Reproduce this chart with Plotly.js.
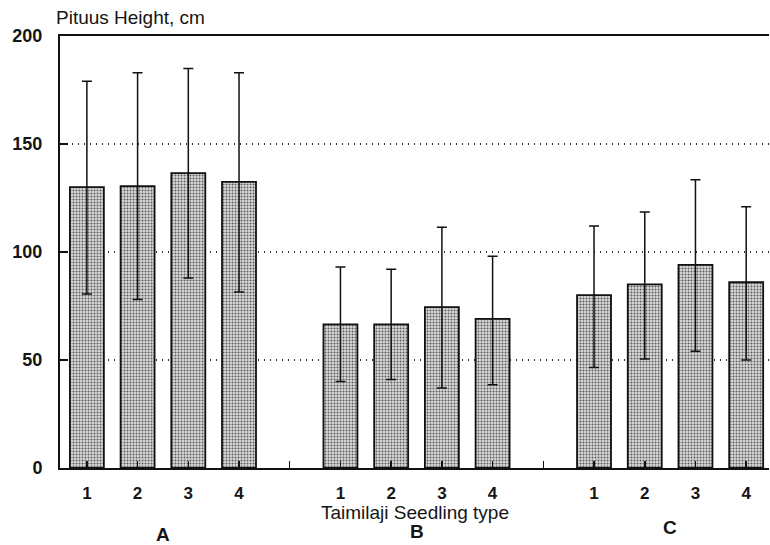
<!DOCTYPE html>
<html>
<head>
<meta charset="utf-8">
<script src="https://cdn.plot.ly/plotly-3.0.1.min.js"></script>
<style>html,body{margin:0;padding:0;background:#fff;}#chart{width:770px;height:545px;}</style>
</head>
<body>
<div id="chart"></div>
<script>
// Data
const groups = ["A", "B", "C"];
const seedlingTypes = ["1", "2", "3", "4"];
const positions = [1, 2, 3, 4, 6, 7, 8, 9, 11, 12, 13, 14];
const meanHeight = [130, 130.5, 136.5, 132.5, 66.5, 66.5, 74.5, 69, 80, 85, 94, 86];
const upperValue = [179, 183, 185, 183, 93, 92, 111.5, 98, 112, 118.5, 133.5, 121];
const lowerValue = [80.5, 78, 88, 81.5, 40, 41, 37, 38.5, 46.5, 50.5, 54, 50];
const tickPositions = [1, 2, 3, 4, 5, 6, 7, 8, 9, 10, 11, 12, 13, 14];
const tickLabels = ["1", "2", "3", "4", "", "1", "2", "3", "4", "", "1", "2", "3", "4"];
const groupCenters = [2.5, 7.5, 12.5];
const yTicks = [0, 50, 100, 150, 200];

const errPlus = meanHeight.map((m, i) => upperValue[i] - m);
const errMinus = meanHeight.map((m, i) => m - lowerValue[i]);

const trace = {
  type: "bar",
  x: positions,
  y: meanHeight,
  width: 0.67,
  marker: {
    color: "#bdbdbd",
    line: {color: "#111", width: 1.8},
    pattern: {shape: ".", fgcolor: "#5a5a5a", bgcolor: "#d9d9d9", size: 3, solidity: 0.35}
  },
  error_y: {
    type: "data",
    symmetric: false,
    array: errPlus,
    arrayminus: errMinus,
    color: "#111",
    thickness: 1.5,
    width: 5
  },
  hoverinfo: "skip"
};

const font = {family: "Liberation Sans, Arial, sans-serif", color: "#151515"};

const annotations = [
  {text: "Pituus Height, cm", xref: "paper", yref: "paper", x: -0.008, y: 1.042,
   xanchor: "left", yanchor: "middle", showarrow: false, font: Object.assign({}, font, {size: 19})},
  {text: "Taimilaji Seedling type", xref: "paper", yref: "paper", x: 0.5, y: -0.102,
   xanchor: "center", yanchor: "middle", showarrow: false, font: Object.assign({}, font, {size: 19})}
];
const groupY = [-0.155, -0.146, -0.137];
groups.forEach((g, i) => {
  annotations.push({text: g, xref: "x", yref: "paper", x: groupCenters[i], y: groupY[i],
    xanchor: "center", yanchor: "middle", showarrow: false,
    font: Object.assign({}, font, {size: 19, weight: "bold"})});
});

const layout = {
  width: 770,
  height: 545,
  margin: {l: 60, r: 1, t: 36, b: 77},
  paper_bgcolor: "#fff",
  plot_bgcolor: "#fff",
  showlegend: false,
  font: font,
  xaxis: {
    range: [0.47, 14.45],
    tickmode: "array",
    tickvals: tickPositions,
    ticktext: tickLabels,
    ticks: "inside",
    ticklen: 7,
    tickwidth: 1.5,
    tickcolor: "#111",
    ticklabelstandoff: 9,
    showgrid: false,
    zeroline: false,
    showline: true,
    linecolor: "#111",
    linewidth: 2,
    mirror: true,
    tickfont: Object.assign({}, font, {size: 17, weight: "bold"})
  },
  yaxis: {
    range: [0, 200],
    tickmode: "array",
    tickvals: yTicks,
    ticks: "inside",
    ticklen: 8,
    tickwidth: 1.5,
    tickcolor: "#111",
    ticklabelstandoff: 12,
    showgrid: true,
    gridcolor: "#333",
    griddash: "1px,5px",
    gridwidth: 1.3,
    zeroline: false,
    showline: true,
    linecolor: "#111",
    linewidth: 2,
    mirror: false,
    tickfont: Object.assign({}, font, {size: 18, weight: "bold"})
  },
  annotations: annotations
};

Plotly.newPlot("chart", [trace], layout, {displayModeBar: false, staticPlot: true});
</script>
</body>
</html>
